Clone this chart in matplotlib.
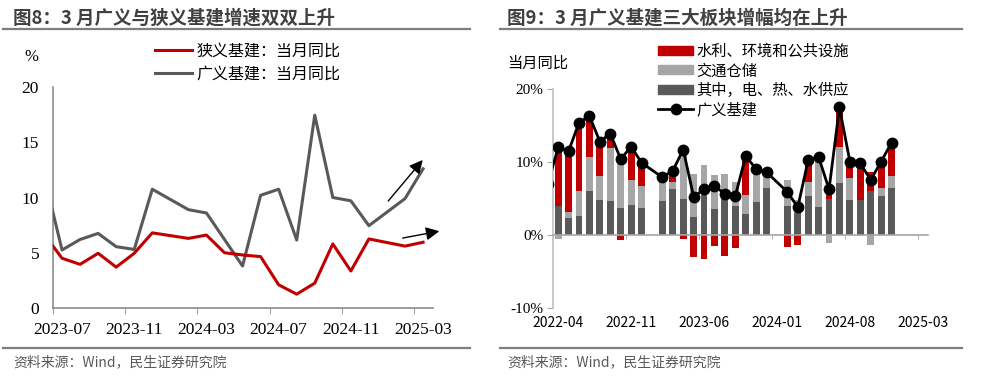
import numpy as np
import pandas as pd
import matplotlib
matplotlib.use("Agg")
import matplotlib.pyplot as plt
from matplotlib.lines import Line2D
from matplotlib.patches import Patch

plt.rcParams['font.family'] = ['Noto Sans CJK SC', 'DejaVu Sans']
plt.rcParams['axes.unicode_minus'] = False

# ---- left chart: monthly yoy, %
left_months = ['2023-06', '2023-07', '2023-08', '2023-09', '2023-10', '2023-11', '2023-12',
               '2024-02', '2024-03', '2024-04', '2024-05', '2024-06', '2024-07', '2024-08',
               '2024-09', '2024-10', '2024-11', '2024-12', '2025-02', '2025-03']
broad_yoy = [12.0, 5.25, 6.2, 6.75, 5.55, 5.3, 10.75, 8.9, 8.6, 6.2, 3.8, 10.2, 10.75, 6.15,
             17.45, 10.0, 9.7, 7.45, 9.9, 12.6]
narrow_yoy = [6.7, 4.5, 3.95, 4.95, 3.7, 4.95, 6.8, 6.3, 6.6, 5.0, 4.8, 4.65, 2.1, 1.25,
              2.25, 5.8, 3.35, 6.25, 5.6, 5.95]
left_ticklabels = ['2023-07', '2023-11', '2024-03', '2024-07', '2024-11', '2025-03']

# ---- right chart: one slot per spreadsheet row (nan = blank row)
nan = np.nan
right_ticklabels = ['2022-04', '2022-11', '2023-06', '2024-01', '2024-08', '2025-03']
broad_line = [7.0, 12.0, 11.5, 15.4, 16.3, 12.8, 13.9, 10.4, 12.1, 9.9, nan, 7.9, 8.8, 11.7,
              5.25, 6.25, 6.75, 5.6, 5.35, 10.8, 9.05, 8.6, nan, 5.9, 3.8, 10.3, 10.7, 6.25,
              17.5, 10.05, 9.8, 7.55, 10.05, 12.65]
power = [nan, 3.97, 2.28, 2.6, 6.07, 4.8, 4.7, 3.65, 4.1, 3.75, nan, 4.7, 6.26, 4.9, 2.5, 5.5,
         3.5, 4.9, 4.0, 2.9, 4.57, 6.4, nan, 4.0, 3.0, 5.4, 3.8, 5.0, 7.17, 4.8, 4.8, 6.07,
         5.34, 6.5]
transport = [nan, -0.55, 0.9, 3.47, 4.57, 3.3, 7.17, 6.16, 3.5, 3.0, nan, 2.6, 1.05, 6.5, 5.85,
             4.1, 4.75, 3.5, 3.2, 2.6, 3.9, 1.5, nan, 3.55, 1.8, 1.9, 6.9, -1.05, 4.93, 2.97,
             -0.2, -1.37, 1.05, 1.6]
water = [nan, 7.67, 8.2, 9.0, 5.34, 4.25, 1.37, -0.7, 4.0, 2.6, nan, 0.0, 0.9, -0.6, -2.97,
         -3.3, -1.5, -2.85, -1.8, 4.8, 0.0, 0.0, nan, -1.6, -1.4, 2.75, 0.0, 0.7, 5.4, 2.05,
         4.8, 2.6, 3.9, 4.25]

RED = '#C00000'
DGRAY = '#595959'
LGRAY = '#A6A6A6'
AXGRAY = '#8C8C8C'
SERIF = 'Liberation Serif'

W, H = 983, 380
fig = plt.figure(figsize=(W / 100, H / 100), dpi=100)


def fx(x):
    return x / W


def fy(y):
    return 1 - y / H


def hline(x0, x1, y, lw=1.6):
    fig.add_artist(Line2D([fx(x0), fx(x1)], [fy(y), fy(y)], transform=fig.transFigure,
                          color='#7F7F7F', lw=lw))


# titles / footer
fig.text(fx(13), fy(18), '图8：3 月广义与狭义基建增速双双上升', fontsize=13.3, fontweight='bold',
         color='#404040', va='center')
fig.text(fx(507), fy(18), '图9：3 月广义基建三大板块增幅均在上升', fontsize=13.3, fontweight='bold',
         color='#404040', va='center')
hline(3, 470, 29)
hline(500, 962, 29)
hline(3, 470, 348)
hline(500, 962, 348)
fig.text(fx(13), fy(362), '资料来源：Wind，民生证券研究院', fontsize=10, color='#595959', va='center')
fig.text(fx(507), fy(362), '资料来源：Wind，民生证券研究院', fontsize=10, color='#595959', va='center')

# ================= left chart =================
ax1 = fig.add_axes([fx(53), fy(308), fx(433) - fx(53), fy(87) - fy(308)])
base = pd.Period('2023-07', 'M')
xl = np.array([(pd.Period(m, 'M') - base).n for m in left_months])
ax1.plot(xl, broad_yoy, color=DGRAY, lw=2.2, label='广义基建：当月同比', zorder=3)
ax1.plot(xl, narrow_yoy, color=RED, lw=2.2, label='狭义基建：当月同比', zorder=4)
ax1.set_xlim(-0.5, 20.55)
ax1.set_ylim(0, 20)
ax1.set_yticks([0, 5, 10, 15, 20])
lt = [(pd.Period(m, 'M') - base).n for m in left_ticklabels]
ax1.set_xticks(lt)
ax1.set_xticklabels(left_ticklabels)
ax1.set_xticks([t - 0.5 for t in lt], minor=True)
ax1.tick_params(axis='x', which='major', length=0, pad=10)
ax1.tick_params(axis='x', which='minor', length=4, color=AXGRAY, direction='out')
ax1.tick_params(axis='y', length=0, pad=10)
for lab in ax1.get_xticklabels() + ax1.get_yticklabels():
    lab.set_fontfamily(SERIF)
    lab.set_fontsize(12.5)
for s in ['top', 'right']:
    ax1.spines[s].set_visible(False)
for s in ['left', 'bottom']:
    ax1.spines[s].set_color(AXGRAY)
    ax1.spines[s].set_linewidth(1.2)
fig.text(fx(31), fy(57), '%', fontsize=12, fontfamily=SERIF, ha='center', va='center')

h, l = ax1.get_legend_handles_labels()
ax1.legend(h[::-1], l[::-1], loc='upper left', bbox_to_anchor=(fx(155), fy(43)),
           bbox_transform=fig.transFigure, frameon=False, fontsize=11.5, handlelength=2.3,
           handletextpad=0.3, labelspacing=0.35, borderpad=0, borderaxespad=0)

# trend arrows
arrow = dict(arrowstyle='-|>', color='black', lw=1.0, mutation_scale=20,
             shrinkA=0, shrinkB=0)
ax1.annotate('', xy=(19.98, 13.4), xytext=(18.07, 9.68), arrowprops=arrow, annotation_clip=False)
ax1.annotate('', xy=(20.9, 6.95), xytext=(18.87, 6.33), arrowprops=arrow, annotation_clip=False)

# ================= right chart =================
ax2 = fig.add_axes([fx(553), fy(308), fx(928) - fx(553), fy(89) - fy(308)])
xr = np.arange(len(broad_line)) - 1
pos_base = np.zeros(len(xr))
neg_base = np.zeros(len(xr))
for vals, col, lab in [(power, DGRAY, '其中，电、热、水供应'),
                       (transport, LGRAY, '交通仓储'),
                       (water, RED, '水利、环境和公共设施')]:
    v = np.array(vals, dtype=float)
    ok = ~np.isnan(v)
    b = np.where(v >= 0, pos_base, neg_base)
    ax2.bar(xr[ok], v[ok], bottom=b[ok], width=0.66, color=col, label=lab, zorder=2)
    pos_base = pos_base + np.where(ok & (v > 0), v, 0)
    neg_base = neg_base + np.where(ok & (v < 0), v, 0)
bl = np.array(broad_line, dtype=float)
okl = ~np.isnan(bl)
ax2.plot(xr[okl], bl[okl], color='black', lw=2, marker='o', markersize=7.5, label='广义基建',
         zorder=4)
ax2.set_xlim(-0.5, 35.5)
ax2.set_ylim(-10, 20)
ax2.set_yticks([-10, 0, 10, 20])
ax2.set_yticklabels(['-10%', '0%', '10%', '20%'], fontfamily=SERIF, fontsize=11)
rt = [0, 7, 14, 21, 28, 35]
ax2.set_xticks(rt)
ax2.set_xticklabels(right_ticklabels, fontfamily=SERIF, fontsize=11)
ax2.set_xticks([t - 0.5 for t in rt], minor=True)
ax2.spines['bottom'].set_position(('data', 0))
ax2.tick_params(axis='x', which='major', length=0, pad=58)
ax2.tick_params(axis='x', which='minor', length=3, color=LGRAY, direction='out')
ax2.tick_params(axis='y', length=4, color=LGRAY, pad=3)
for s in ['top', 'right']:
    ax2.spines[s].set_visible(False)
ax2.spines['left'].set_color('#BFBFBF')
ax2.spines['left'].set_linewidth(1.2)
ax2.spines['bottom'].set_color(LGRAY)
ax2.spines['bottom'].set_linewidth(1.2)
fig.text(fx(507), fy(63), '当月同比', fontsize=11, va='center')

h2 = [Patch(color=RED), Patch(color=LGRAY), Patch(color=DGRAY),
      Line2D([], [], color='black', lw=2, marker='o', markersize=7.5)]
l2 = ['水利、环境和公共设施', '交通仓储', '其中，电、热、水供应', '广义基建']
ax2.legend(h2, l2, loc='upper left', bbox_to_anchor=(fx(658), fy(43)),
           bbox_transform=fig.transFigure, frameon=False, fontsize=11, handlelength=2.3,
           handleheight=0.55, handletextpad=0.2, labelspacing=0.15, borderpad=0,
           borderaxespad=0)

fig.savefig('out.png', dpi=100)
